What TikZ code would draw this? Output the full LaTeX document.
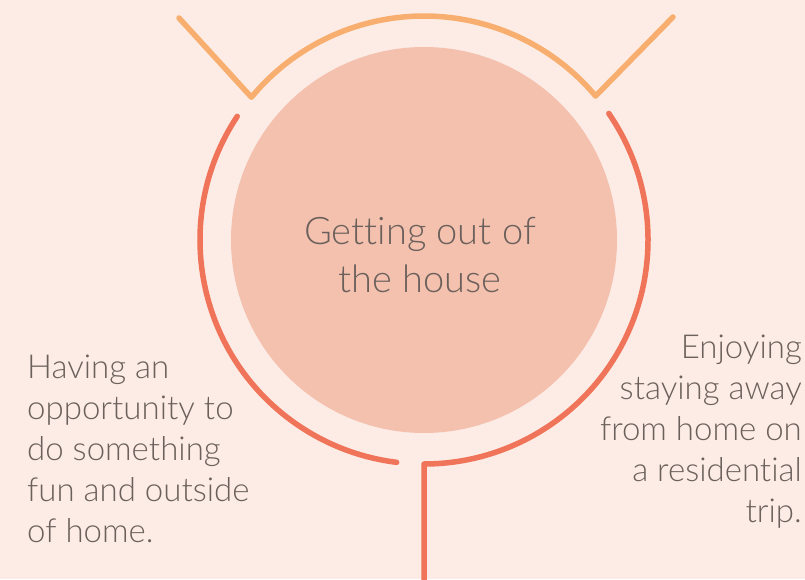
\documentclass[tikz,border=0pt]{standalone}
\usepackage{fontspec}
\usetikzlibrary{calc}
\IfFontExistsTF{Lato Light}{\setmainfont{Lato Light}[Ligatures=NoCommon]}{\setmainfont{Lato}[Ligatures=NoCommon]}
\definecolor{bg}{HTML}{FCECE5}
\definecolor{disc}{HTML}{F4C1AE}
\definecolor{redarc}{HTML}{EF7459}
\definecolor{orarc}{HTML}{F8AE6E}
\definecolor{txt}{HTML}{6B605B}
\begin{document}
\begin{tikzpicture}[x=1pt,y=1pt,
  arcline/.style={line width=5.5pt,line cap=round,line join=round},
  sidetext/.style={inner sep=0pt,text=txt,font=\fontsize{33}{41}\selectfont},
  centertext/.style={inner sep=0pt,text=txt,align=center,font=\fontsize{38}{48}\selectfont}]
\fill[bg] (0,0) rectangle (805,579);
\useasboundingbox (0,0) rectangle (805,579);
\coordinate (c) at (424,339);
\node[circle,fill=disc,minimum size=386pt,inner sep=0pt] (disc) at (c) {};
% orange crown
\coordinate (ol) at (179,561);
\coordinate (or) at (673,562);
\draw[arcline,orarc] (ol) -- ($(c)+(140.4:224)$) arc[start angle=140.4,end angle=40,radius=224] -- (or);
% left red arc
\draw[arcline,redarc] ($(c)+(146.5:224)$) arc[start angle=146.5,end angle=263,radius=224];
% right red arc and stem
\coordinate (stem) at (424,-10);
\draw[arcline,redarc,line cap=butt] ($(c)+(34.4:224)$) arc[start angle=34.4,end angle=-90,radius=224] -- (stem);
\fill[redarc] ($(c)+(34.4:224)$) circle (2.75pt);
% texts
\node[centertext,anchor=base] (title) at (420,287) {Getting out of\\the house};
\node[sidetext,align=left,anchor=base west] (left) at (27,37) {Having an\\opportunity to\\do something\\fun and outside\\of home.};
\node[sidetext,align=right,anchor=base east] (right) at (802,57) {Enjoying\\staying away\\from home on\\a residential\\trip.};
\end{tikzpicture}
\end{document}
